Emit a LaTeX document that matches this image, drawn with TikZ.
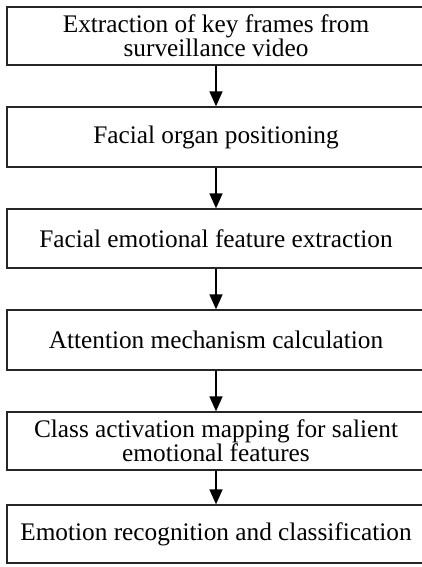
\documentclass[tikz,border=0pt]{standalone}
\usepackage{fontspec}
\setmainfont{Liberation Serif}
\usetikzlibrary{arrows.meta}
\begin{document}
\begin{tikzpicture}[x=1pt,y=1pt,
  stepbox/.style={draw=black!85, line width=1.3pt, rectangle, minimum width=418pt, inner sep=0pt, align=center, font=\fontsize{25.3}{24}\selectfont},
  flow/.style={line width=1.5pt, -{Triangle[width=13pt,length=15pt]}}]
\useasboundingbox (0,0) rectangle (421,-567);
\node[stepbox, minimum height=58pt] (b1) at (216,-36) {Extraction of key frames from\\surveillance video};
\node[stepbox, minimum height=60pt] (b2) at (216,-137) {Facial organ positioning};
\node[stepbox, minimum height=59pt] (b3) at (216,-238.5) {Facial emotional feature extraction};
\node[stepbox, minimum height=60pt] (b4) at (216,-340) {Attention mechanism calculation};
\node[stepbox, minimum height=58pt] (b5) at (216,-441) {Class activation mapping for salient\\emotional features};
\node[stepbox, minimum height=58pt] (b6) at (216,-534) {Emotion recognition and classification};
\draw[flow] (b1) -- (b2);
\draw[flow] (b2) -- (b3);
\draw[flow] (b3) -- (b4);
\draw[flow] (b4) -- (b5);
\draw[flow] (b5) -- (b6);
\end{tikzpicture}
\end{document}
